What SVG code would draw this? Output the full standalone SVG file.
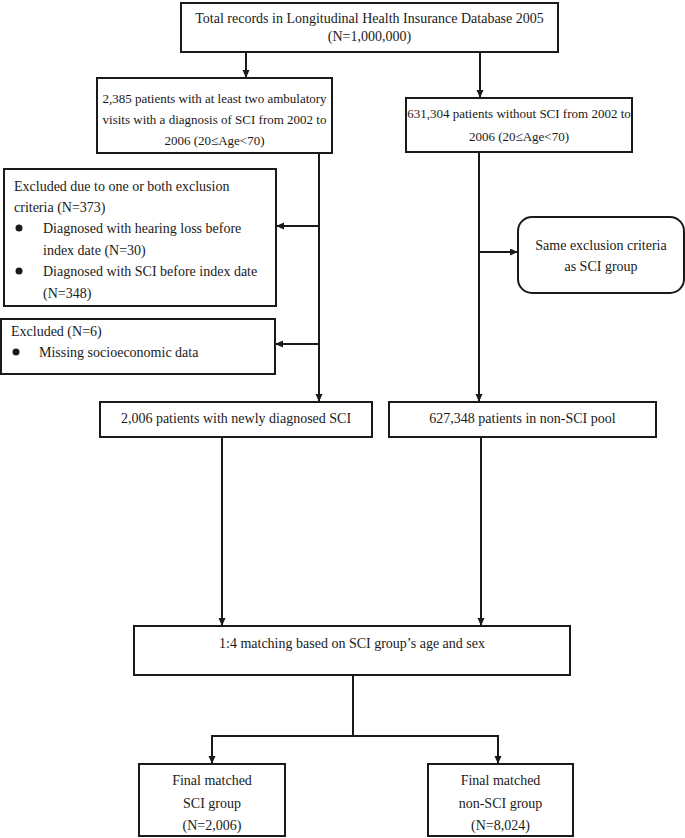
<svg xmlns="http://www.w3.org/2000/svg" width="685" height="838" viewBox="0 0 685 838">
<defs>
<marker id="ah" markerUnits="userSpaceOnUse" markerWidth="9" markerHeight="8" refX="8" refY="3.5" orient="auto">
<path d="M0,0 L8,3.5 L0,7 z" fill="#1a1a1a"/>
</marker>
<style>
rect{fill:#fff;stroke:#1a1a1a;stroke-width:2}
text{font-family:"Liberation Serif","Times New Roman",serif;font-size:14px;fill:#1a1a1a}
.s{font-size:13px}
.c{text-anchor:middle}
.ln{fill:none;stroke:#1a1a1a;stroke-width:2}
.ar{fill:none;stroke:#1a1a1a;stroke-width:2;marker-end:url(#ah)}
.dot{fill:#1a1a1a}
</style>
</defs>
<rect x="0" y="0" width="685" height="838" style="fill:#fff;stroke:none"/>
<g id="connectors">
<line class="ar" x1="246" y1="52" x2="246" y2="78"/>
<line class="ar" x1="480" y1="52" x2="480" y2="98"/>
<line class="ln" x1="319" y1="153" x2="319" y2="394"/>
<path class="ar" d="M319,380 L319,402"/>
<path class="ar" d="M319,226 L276,226"/>
<path class="ar" d="M319,344 L275,344"/>
<line class="ln" x1="479" y1="152" x2="479" y2="394"/>
<path class="ar" d="M479,380 L479,402"/>
<path class="ar" d="M479,252 L518,252"/>
<path class="ar" d="M222,437 L222,626"/>
<path class="ar" d="M481,437 L481,626"/>
<path class="ln" d="M353,675 L353,736 M212,736 L498,736"/>
<path class="ar" d="M212,735 L212,764"/>
<path class="ar" d="M498,735 L498,764"/>
</g>
<g id="n_total">
<rect x="181" y="3" width="377" height="49"/>
<text class="c" x="369.5" y="23">Total records in Longitudinal Health Insurance Database 2005</text>
<text class="c" x="369.5" y="40.5">(N=1,000,000)</text>
</g>
<g id="n_sci">
<rect x="97" y="78" width="235" height="75"/>
<text class="c s" x="214.5" y="103">2,385 patients with at least two ambulatory</text>
<text class="c s" x="214.5" y="124">visits with a diagnosis of SCI from 2002 to</text>
<text class="c s" x="214.5" y="145">2006 (20≤Age&lt;70)</text>
</g>
<g id="n_nonsci">
<rect x="406" y="98" width="226" height="54"/>
<text class="c s" x="519" y="118">631,304 patients without SCI from 2002 to</text>
<text class="c s" x="519" y="141">2006 (20≤Age&lt;70)</text>
</g>
<g id="n_excl1">
<rect x="4" y="169" width="272" height="137"/>
<text x="14" y="191">Excluded due to one or both exclusion</text>
<text x="14" y="212">criteria (N=373)</text>
<circle class="dot" cx="19" cy="228" r="3.5"/>
<text x="43" y="233">Diagnosed with hearing loss before</text>
<text x="43" y="255">index date (N=30)</text>
<circle class="dot" cx="19" cy="271" r="3.5"/>
<text x="43" y="276">Diagnosed with SCI before index date</text>
<text x="43" y="298">(N=348)</text>
</g>
<g id="n_same">
<rect x="518" y="217" width="166" height="76" rx="14" ry="14"/>
<text class="c" x="601" y="250">Same exclusion criteria</text>
<text class="c" x="601" y="271">as SCI group</text>
</g>
<g id="n_excl2">
<rect x="1" y="319" width="274" height="55"/>
<text x="11" y="336">Excluded (N=6)</text>
<circle class="dot" cx="16" cy="352" r="3.5"/>
<text x="39" y="357">Missing socioeconomic data</text>
</g>
<g id="n_newsci">
<rect x="100" y="402" width="272" height="35"/>
<text class="c" x="236" y="423">2,006 patients with newly diagnosed SCI</text>
</g>
<g id="n_pool">
<rect x="389" y="402" width="267" height="35"/>
<text class="c" x="522.5" y="423">627,348 patients in non-SCI pool</text>
</g>
<g id="n_match">
<rect x="134" y="626" width="436" height="49"/>
<text class="c" x="352" y="648">1:4 matching based on SCI group’s age and sex</text>
</g>
<g id="n_final_sci">
<rect x="139" y="764" width="146" height="72"/>
<text class="c" x="212" y="785">Final matched</text>
<text class="c" x="212" y="808">SCI group</text>
<text class="c" x="212" y="830">(N=2,006)</text>
</g>
<g id="n_final_nonsci">
<rect x="428" y="764" width="145" height="72"/>
<text class="c" x="500.5" y="785">Final matched</text>
<text class="c" x="500.5" y="808">non-SCI group</text>
<text class="c" x="500.5" y="830">(N=8,024)</text>
</g>
</svg>
